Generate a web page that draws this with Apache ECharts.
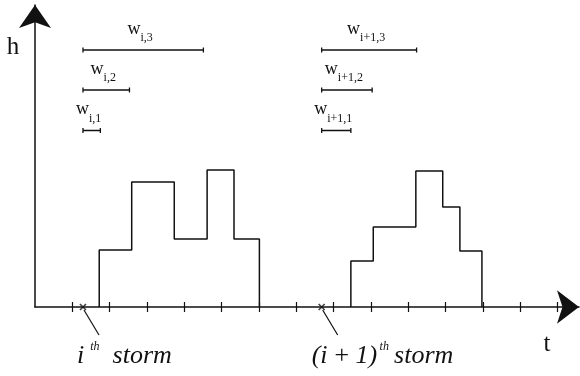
<!DOCTYPE html>
<html>
<head>
<meta charset="utf-8">
<script src="https://cdn.jsdelivr.net/npm/echarts@6/dist/echarts.min.js"></script>
<style>
html, body { margin: 0; padding: 0; background: #fff; }
#chart { width: 580px; height: 376px; }
</style>
</head>
<body>
<div id="chart"></div>
<script>
// time axis ticks (unit steps) and storm start times
var tickValues = [1, 2, 3, 4, 5, 6, 7, 8, 9, 10, 11, 12, 13, 14];
var stormTimes = [1.285, 7.678];
var stormNames = ['i', '(i\u2009+\u20091)'];

// rainfall step profiles: edges along t, heights in between
var storm1Edges = [1.72, 2.59, 3.73, 4.61, 5.33, 6.01];
var storm1Levels = [5.7, 12.5, 6.8, 13.7, 6.8];
var storm2Edges = [8.46, 9.06, 10.2, 10.92, 11.38, 11.97];
var storm2Levels = [4.6, 8.0, 13.6, 10.0, 5.6];

// duration windows w drawn above each storm
var windowLevels = [17.65, 21.7, 25.7];
var storm1WindowEnds = [1.75, 2.53, 4.51];
var storm2WindowEnds = [8.46, 9.03, 10.22];
var storm1WindowNames = ['i,1', 'i,2', 'i,3'];
var storm2WindowNames = ['i+1,1', 'i+1,2', 'i+1,3'];

var SERIF = "'Liberation Serif', 'Times New Roman', serif";
var INK = '#111';

function stepPoints(edges, levels) {
  var pts = [[edges[0], 0]];
  for (var i = 0; i < levels.length; i++) {
    pts.push([edges[i], levels[i]]);
    pts.push([edges[i + 1], levels[i]]);
  }
  pts.push([edges[edges.length - 1], 0]);
  return pts;
}

var myChart = echarts.init(document.getElementById('chart'));

var gridBox = { left: 35, right: 1, top: 5, bottom: 69 };
var X_MAX = 14.57, Y_MAX = 30.2;
var series = [];

[[storm1Edges, storm1Levels], [storm2Edges, storm2Levels]].forEach(function (s) {
  series.push({
    type: 'line',
    data: stepPoints(s[0], s[1]),
    showSymbol: false,
    silent: true,
    lineStyle: { color: INK, width: 1.5 }
  });
});

function addWindows(start, ends) {
  for (var k = 0; k < ends.length; k++) {
    series.push({
      type: 'line',
      data: [[start, windowLevels[k]], [ends[k], windowLevels[k]]],
      symbol: 'rect',
      symbolSize: [1.3, 5],
      showSymbol: true,
      silent: true,
      itemStyle: { color: INK },
      lineStyle: { color: INK, width: 1.3 }
    });
  }
}
addWindows(stormTimes[0], storm1WindowEnds);
addWindows(stormTimes[1], storm2WindowEnds);

series.push({
  type: 'scatter',
  data: stormTimes.map(function (t) { return [t, 0]; }),
  symbol: 'path://M0,0L10,10M10,0L0,10',
  symbolSize: 6,
  silent: true,
  z: 5,
  itemStyle: { color: 'rgba(0,0,0,0)', borderColor: INK, borderWidth: 1.6 }
});

var option = {
  animation: false,
  backgroundColor: '#fff',
  grid: [
    { left: gridBox.left, right: gridBox.right, top: gridBox.top, bottom: gridBox.bottom },
    { left: gridBox.left, right: gridBox.right, top: gridBox.top, bottom: gridBox.bottom }
  ],
  xAxis: [{
    type: 'value', gridIndex: 0, min: 0, max: X_MAX, interval: 1,
    axisLine: { show: true, symbol: ['none', 'arrow'], symbolSize: [25, 22],
      lineStyle: { color: INK, width: 1.5 } },
    axisTick: { show: true, inside: false, length: 5, customValues: tickValues,
      lineStyle: { color: INK, width: 1.2 } },
    axisLabel: { show: false },
    splitLine: { show: false }
  }, {
    type: 'value', gridIndex: 1, min: 0, max: X_MAX, interval: 1, position: 'bottom',
    axisLine: { show: false },
    axisTick: { show: true, inside: true, length: 5, customValues: tickValues,
      lineStyle: { color: INK, width: 1.2 } },
    axisLabel: { show: false },
    splitLine: { show: false }
  }],
  yAxis: [{
    type: 'value', gridIndex: 0, min: 0, max: Y_MAX,
    axisLine: { show: true, symbol: ['none', 'arrow'], symbolSize: [24, 23],
      lineStyle: { color: INK, width: 1.5 } },
    axisTick: { show: false },
    axisLabel: { show: false },
    splitLine: { show: false }
  }, {
    type: 'value', gridIndex: 1, min: 0, max: Y_MAX, show: false
  }],
  series: series
};
myChart.setOption(option);

// annotations placed from the axis scales
var graphics = [];
function px(x, y) { return myChart.convertToPixel({ gridIndex: 0 }, [x, y]); }

function windowLabels(start, ends, names) {
  for (var k = 0; k < ends.length; k++) {
    var p = px((start + ends[k]) / 2, windowLevels[k]);
    graphics.push({
      type: 'text', x: p[0] - 3, y: p[1] - 21, silent: true,
      style: {
        text: '{w|w}{s|' + names[k] + '}',
        align: 'center', verticalAlign: 'middle',
        rich: {
          w: { fontFamily: SERIF, fontSize: 18, lineHeight: 18, fill: INK },
          s: { fontFamily: SERIF, fontSize: 12, lineHeight: 12, padding: [18, 0, 0, 0], fill: INK }
        }
      }
    });
  }
}
windowLabels(stormTimes[0], storm1WindowEnds, storm1WindowNames);
windowLabels(stormTimes[1], storm2WindowEnds, storm2WindowNames);

var labelShift = [-6, -10];
var supText = ['  th', '\u2009th'];
var tailText = ['  storm', '\u2009storm'];
stormTimes.forEach(function (t, i) {
  var p = px(t, 0);
  graphics.push({
    type: 'line', silent: true,
    shape: { x1: p[0] + 1, y1: p[1] + 3, x2: p[0] + 16, y2: p[1] + 28 },
    style: { stroke: INK, lineWidth: 1.2 }
  });
  graphics.push({
    type: 'text', x: p[0] + labelShift[i], y: 356, silent: true,
    style: {
      text: '{m|' + stormNames[i] + '}{sup|' + supText[i] + '}{m|' + tailText[i] + '}',
      align: 'left', verticalAlign: 'middle',
      rich: {
        m: { fontFamily: SERIF, fontStyle: 'italic', fontSize: 26, lineHeight: 26, fill: INK },
        sup: { fontFamily: SERIF, fontStyle: 'italic', fontSize: 12, lineHeight: 12, padding: [0, 0, 18, 0], fill: INK }
      }
    }
  });
});

graphics.push({
  type: 'text', x: 13, y: 47, silent: true,
  style: { text: 'h', fontFamily: SERIF, fontSize: 25, fill: INK, align: 'center', verticalAlign: 'middle' }
});
graphics.push({
  type: 'text', x: 547, y: 344, silent: true,
  style: { text: 't', fontFamily: SERIF, fontSize: 25, fill: INK, align: 'center', verticalAlign: 'middle' }
});

myChart.setOption({ graphic: graphics });
</script>
</body>
</html>
